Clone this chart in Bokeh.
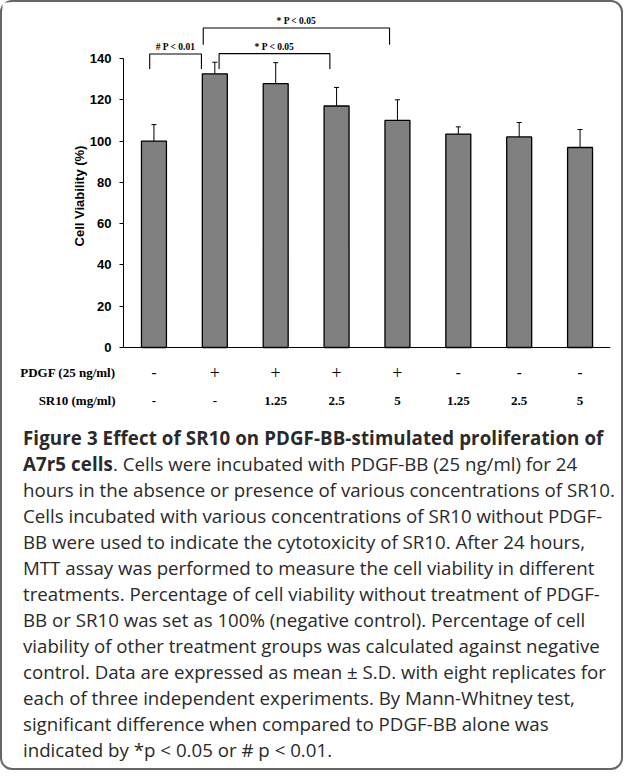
from bokeh.plotting import figure
from bokeh.models import (Range1d, FixedTicker, ColumnDataSource, Whisker, TeeHead, Div)
from bokeh.layouts import column
from bokeh.core.properties import value
from bokeh.embed import file_html
from bokeh.resources import INLINE
from math import pi

# ---------------- data ----------------
pdgf = ["-", "+", "+", "+", "+", "-", "-", "-"]
sr10 = ["-", "-", "1.25", "2.5", "5", "1.25", "2.5", "5"]
viability = [100.0, 132.6, 127.8, 117.0, 110.0, 103.4, 102.0, 96.9]
sd = [8.0, 5.6, 10.2, 9.0, 10.0, 3.5, 7.0, 8.7]
y_ticks = [0, 20, 40, 60, 80, 100, 120, 140]
y_title = "Cell Viability (%)"

bracket_labels = ["# P < 0.01", "* P < 0.05", "* P < 0.05"]
bracket_left = [0.43, 1.57, 1.31]
bracket_right = [1.28, 3.39, 4.37]
bracket_top = [142.2, 142.4, 154.8]
bracket_foot = [134.9, 134.9, 146.7]

row_titles = ["PDGF (25 ng/ml)", "SR10 (mg/ml)"]

caption_lines = [
    "<b style='letter-spacing:0.1px'>Figure 3 Effect of SR10 on PDGF-BB-stimulated proliferation of</b>",
    "<b style='letter-spacing:0.1px'>A7r5 cells</b>. Cells were incubated with PDGF-BB (25 ng/ml) for 24",
    "hours in the absence or presence of various concentrations of SR10.",
    "Cells incubated with various concentrations of SR10 without PDGF-",
    "BB were used to indicate the cytotoxicity of SR10. After 24 hours,",
    "MTT assay was performed to measure the cell viability in different",
    "treatments. Percentage of cell viability without treatment of PDGF-",
    "BB or SR10 was set as 100% (negative control). Percentage of cell",
    "viability of other treatment groups was calculated against negative",
    "control. Data are expressed as mean &plusmn; S.D. with eight replicates for",
    "each of three independent experiments. By Mann-Whitney test,",
    "significant difference when compared to PDGF-BB alone was",
    "indicated by *p &lt; 0.05 or # p &lt; 0.01.",
]

# ---------------- chart ----------------
n = len(viability)
xc = [i + 0.5 for i in range(n)]

p = figure(width=609, height=418,
           x_range=Range1d(-1.988, 8), y_range=Range1d(-35.37, 167.15),
           output_backend="svg", toolbar_location=None,
           min_border_left=0, min_border_right=1, min_border_top=0, min_border_bottom=0)
p.outline_line_color = None
p.xgrid.visible = False
p.ygrid.visible = False

p.yaxis.fixed_location = 0
p.yaxis.ticker = FixedTicker(ticks=y_ticks)
p.yaxis.bounds = (0, 140)
p.yaxis.major_tick_out = 4
p.yaxis.major_tick_in = 0
p.yaxis.minor_tick_line_color = None
p.yaxis.axis_line_color = "black"
p.yaxis.major_tick_line_color = "black"
p.yaxis.major_label_text_font = "Liberation Sans"
p.yaxis.major_label_text_font_style = "bold"
p.yaxis.major_label_text_font_size = "13px"
p.yaxis.major_label_text_color = "black"
p.yaxis.major_label_standoff = 8

p.xaxis.fixed_location = 0
p.xaxis.ticker = FixedTicker(ticks=[])
p.xaxis.bounds = (0, 8)
p.xaxis.minor_tick_line_color = None
p.xaxis.axis_line_color = "black"

src = ColumnDataSource(dict(
    x=xc, top=viability,
    upper=[v + s for v, s in zip(viability, sd)],
    lower=[v - s for v, s in zip(viability, sd)],
))
p.vbar(x="x", top="top", bottom=0, width=0.41, source=src,
       fill_color="#808080", line_color="black", line_width=1.3)

wh = Whisker(source=src, base="x", upper="upper", lower="lower",
             line_color="black", line_width=1,
             upper_head=TeeHead(size=5, line_color="black", line_width=1),
             lower_head=TeeHead(size=5, line_color="black", line_width=1))
p.add_layout(wh)

# significance brackets
p.multi_line(xs=[[a, a, b, b] for a, b in zip(bracket_left, bracket_right)],
             ys=[[f, t, t, f] for t, f in zip(bracket_top, bracket_foot)],
             line_color="black", line_width=1.1)
p.text(x=[(a + b) / 2 for a, b in zip(bracket_left, bracket_right)],
       y=[t + 1.0 for t in bracket_top], text=bracket_labels,
       text_font=value("Liberation Serif"), text_font_style="bold",
       text_font_size="9.5px", text_align="center", text_baseline="bottom",
       text_color="black")

# y-axis title
p.text(x=[-0.72], y=[73.4], text=[y_title], angle=pi / 2,
       text_font=value("Liberation Sans"), text_font_style="bold",
       text_font_size="13px", text_align="center", text_baseline="middle",
       text_color="black")

# treatment rows under the axis
row_y = [-12.1, -25.7]
p.text(x=[-0.131, -0.131], y=row_y, text=row_titles,
       text_font=value("Liberation Serif"), text_font_style="bold",
       text_font_size="13px", text_align="right", text_baseline="middle",
       text_color="black")

plus_x = [x for x, s in zip(xc, pdgf) if s == "+"]
minus_x = [x for x, s in zip(xc, pdgf) if s != "+"]
p.text(x=plus_x, y=[row_y[0]] * len(plus_x), text=["+"] * len(plus_x),
       text_font=value("Liberation Serif"), text_font_size="18px",
       text_align="center", text_baseline="middle", text_color="black")
p.text(x=minus_x, y=[row_y[0]] * len(minus_x), text=["-"] * len(minus_x),
       text_font=value("Liberation Serif"), text_font_style="bold", text_font_size="15px",
       text_align="center", text_baseline="middle", text_color="black")
p.text(x=xc, y=[row_y[1]] * n, text=sr10,
       text_font=value("Liberation Serif"), text_font_style="bold", text_font_size="13px",
       text_align="center", text_baseline="middle", text_color="black")

# ---------------- caption ----------------
cap = Div(width=609, height=338,
          text='<div style="padding-left:16px;white-space:nowrap;">' + "<br>".join(caption_lines) + "</div>",
          styles={"font-family": "'Open Sans', sans-serif", "font-size": "18.7px",
                  "line-height": "26px", "color": "#2a2a2a"})

layout = column(p, cap, styles={"border": "2px solid #666", "border-radius": "12px",
                                "background-color": "white"})

open("out.html", "w").write(file_html(layout, INLINE))
